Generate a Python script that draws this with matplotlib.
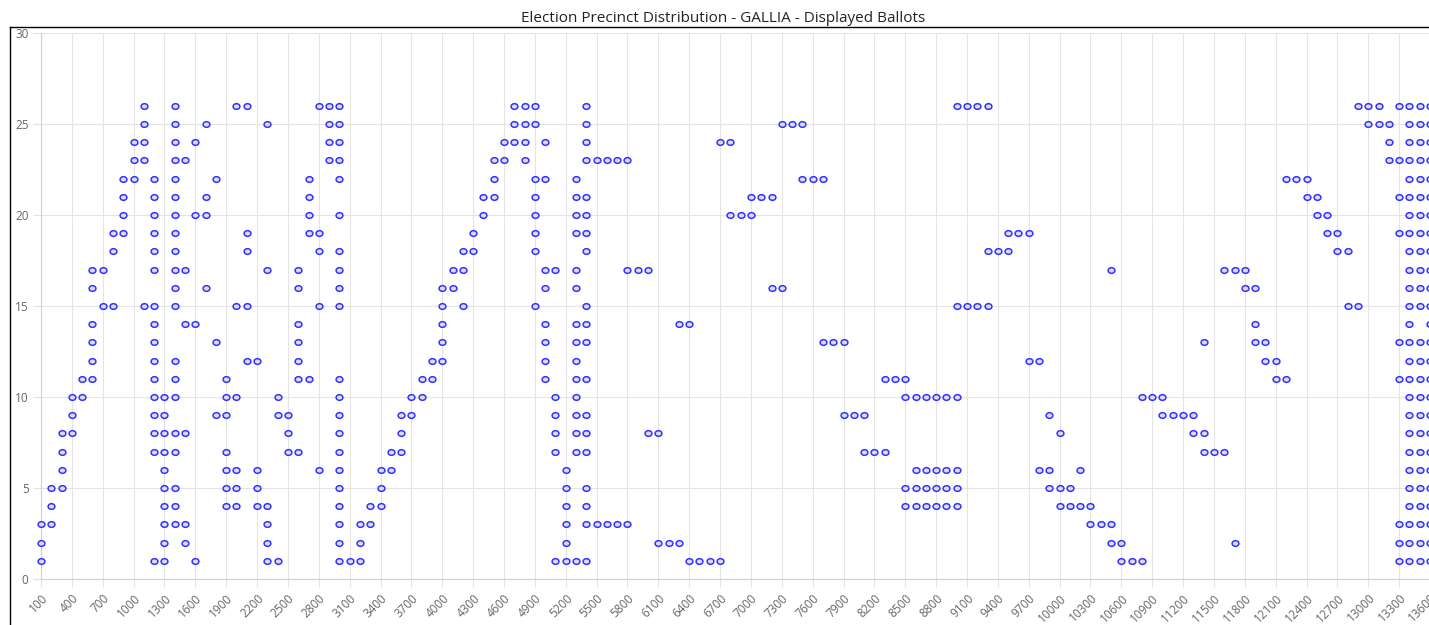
import matplotlib
matplotlib.use("Agg")
import matplotlib.pyplot as plt
from matplotlib.lines import Line2D
from matplotlib.path import Path
from matplotlib.markers import MarkerStyle
from matplotlib.transforms import Affine2D

plt.rcParams['font.family'] = ['Open Sans', 'DejaVu Sans']

# x categories (precinct size buckets)
precincts = list(range(100, 13700, 100))

# ballots shown per column (y values), split in four blocks of 34 columns
ballots_a = [
    [1, 2, 3], [3, 4, 5], [5, 6, 7, 8], [8, 9, 10], [10, 11],
    [11, 12, 13, 14, 16, 17], [15, 17], [15, 18, 19], [19, 20, 21, 22], [22, 23, 24],
    [15, 23, 24, 25, 26],
    [1, 7, 8, 9, 10, 11, 12, 13, 14, 15, 17, 18, 19, 20, 21, 22],
    [1, 2, 3, 4, 5, 6, 7, 8, 9, 10],
    [3, 4, 5, 7, 8, 10, 11, 12, 15, 16, 17, 18, 19, 20, 21, 22, 23, 24, 25, 26],
    [2, 3, 8, 14, 17, 23], [1, 14, 20, 24], [16, 20, 21, 25], [9, 13, 22],
    [4, 5, 6, 7, 9, 10, 11], [4, 5, 6, 10, 15, 26], [12, 15, 18, 19, 26], [4, 5, 6, 12],
    [1, 2, 3, 4, 17, 25], [1, 9, 10], [7, 8, 9], [7, 11, 12, 13, 14, 16, 17],
    [11, 19, 20, 21, 22], [6, 15, 18, 19, 26], [23, 24, 25, 26],
    [1, 2, 3, 4, 5, 6, 7, 8, 9, 10, 11, 15, 16, 17, 18, 20, 22, 23, 24, 25, 26],
    [1], [1, 2, 3], [3, 4], [4, 5, 6],
]
ballots_b = [
    [6, 7], [7, 8, 9], [9, 10], [10, 11], [11, 12], [12, 13, 14, 15, 16], [16, 17],
    [15, 17, 18], [18, 19], [20, 21], [21, 22, 23], [23, 24], [24, 25, 26],
    [23, 24, 25, 26], [15, 18, 19, 20, 21, 22, 25, 26], [11, 12, 13, 14, 16, 17, 22, 24],
    [1, 7, 8, 9, 10, 17], [1, 2, 3, 4, 5, 6],
    [1, 7, 8, 9, 10, 11, 12, 13, 14, 16, 17, 19, 20, 21, 22],
    [1, 3, 4, 5, 7, 8, 9, 11, 13, 14, 15, 18, 19, 20, 21, 23, 24, 25, 26],
    [3, 23], [3, 23], [3, 23], [3, 17, 23], [17], [8, 17], [2, 8], [2], [2, 14],
    [1, 14], [1], [1], [1, 24], [20, 24],
]
ballots_c = [
    [20], [20, 21], [21], [16, 21], [16, 25], [25], [22, 25], [22], [13, 22], [13],
    [9, 13], [9], [7, 9], [7], [7, 11], [11], [4, 5, 10, 11], [4, 5, 6, 10],
    [4, 5, 6, 10], [4, 5, 6, 10], [4, 5, 6, 10], [4, 5, 6, 10, 15, 26], [15, 26],
    [15, 26], [15, 18, 26], [18], [18, 19], [19], [12, 19], [6, 12], [5, 6, 9],
    [4, 5, 8], [4, 5], [4, 6],
]
ballots_d = [
    [3, 4], [3], [2, 3, 17], [1, 2], [1], [1, 10], [10], [9, 10], [9], [9], [8, 9],
    [7, 8, 13], [7], [7, 17], [2, 17], [16, 17], [13, 14, 16], [12, 13], [11, 12],
    [11, 22], [22], [21, 22], [20, 21], [19, 20], [18, 19], [15, 18], [15, 26],
    [25, 26], [25, 26], [23, 24, 25], [1, 2, 3, 11, 13, 19, 21, 23, 26],
    [1, 2, 3, 4, 5, 6, 7, 8, 9, 10, 11, 12, 13, 14, 15, 16, 17, 18, 19, 20, 21, 22, 23, 24, 25, 26],
    [1, 2, 3, 4, 5, 6, 7, 8, 9, 10, 11, 12, 13, 15, 16, 17, 18, 19, 20, 21, 22, 23, 24, 25, 26],
    [1, 2, 3, 4, 5, 6, 7, 8, 9, 10, 11, 12, 13, 14, 15, 16, 17, 18, 19, 20, 21, 22, 23, 24, 25, 26],
]

ballots = ballots_a + ballots_b + ballots_c + ballots_d
title = "Election Precinct Distribution - GALLIA - Displayed Ballots"

xs, ys = [], []
for i, vals in enumerate(ballots):
    for v in vals:
        xs.append(i)
        ys.append(v)

W, H = 1429, 625
fig = plt.figure(figsize=(W / 100, H / 100), dpi=100)
ax = fig.add_axes([41 / W, (H - 579) / H, (1430 - 41) / W, (579 - 33) / H])

ell = Path.unit_circle().transformed(Affine2D().scale(1.2, 1.0))
ax.scatter(xs, ys, s=24, marker=MarkerStyle(ell), facecolors='#dcdcec',
           edgecolors='#3434ff', linewidths=1.1, zorder=3, clip_on=False)

ax.set_xlim(0, len(precincts) - 1)
ax.set_ylim(0, 30)
tick_idx = list(range(0, len(precincts), 3))
ax.set_xticks(tick_idx)
ax.set_xticklabels([str(precincts[i]) for i in tick_idx], rotation=45, ha='right',
                   va='top', rotation_mode='anchor', fontsize=8.5, color='#666666')
ax.set_yticks([0, 5, 10, 15, 20, 25, 30])
ax.set_yticklabels(['0', '5', '10', '15', '20', '25', '30'], fontsize=8.5, color='#666666')
ax.tick_params(axis='both', length=6, color='#e4e4e4', width=0.8, pad=3)
ax.grid(True, color='#e4e4e4', linewidth=0.8)
ax.set_axisbelow(True)
for s in ['top', 'right']:
    ax.spines[s].set_visible(False)
for s in ['left', 'bottom']:
    ax.spines[s].set_color('#d0d0d0')
    ax.spines[s].set_linewidth(0.8)

fig.text(723 / W, 1 - 18 / H, title, ha='center', va='center', fontsize=11,
         color='#222222')

fig.add_artist(Line2D([10 / W, 1], [1 - 27 / H, 1 - 27 / H], color='black', lw=1))
fig.add_artist(Line2D([10 / W, 10 / W], [0, 1 - 27 / H], color='black', lw=1))

fig.savefig('out.png', dpi=100)
